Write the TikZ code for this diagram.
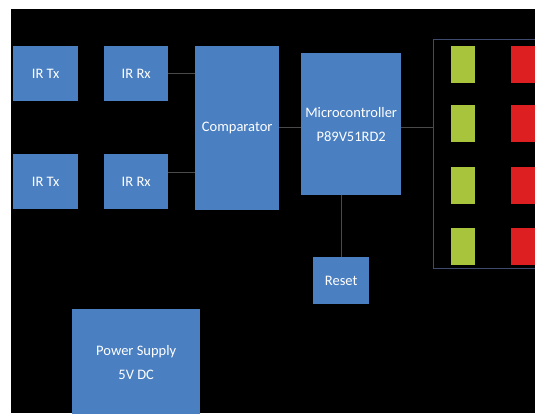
\documentclass[tikz,border=0pt]{standalone}
\usepackage{fontspec}
\setmainfont{Carlito}
\definecolor{blk}{HTML}{4A7FC1}
\definecolor{ledg}{HTML}{A8C43C}
\definecolor{ledr}{HTML}{DD1F22}
\definecolor{wire}{HTML}{4A4A4A}
\definecolor{frm}{HTML}{3E4A6E}
\tikzset{
  box/.style={fill=blk, text=white, inner sep=0pt, anchor=north west, align=center,
    font=\fontsize{14.5}{24}\selectfont},
  ledbox/.style={inner sep=0pt, anchor=north west, minimum width=24pt, minimum height=37pt},
  conn/.style={draw=wire, line width=0.8pt}
}
\begin{document}
\begin{tikzpicture}[x=1pt,y=-1pt]
\useasboundingbox (0,0) rectangle (535,413);
\clip (0,0) rectangle (535,413);
\fill[white] (0,0) rectangle (535,413);
\fill[black] (11,9) rectangle (535,413);
% blocks
\node[box, minimum width=65pt, minimum height=55pt] (tx1) at (13,46) {IR Tx};
\node[box, minimum width=64pt, minimum height=55pt] (rx1) at (104,46) {IR Rx};
\node[box, minimum width=65pt, minimum height=55pt] (tx2) at (13,154) {IR Tx};
\node[box, minimum width=64pt, minimum height=55pt] (rx2) at (104,154) {IR Rx};
\node[box, minimum width=84pt, minimum height=164pt] (comp) at (195,46) {Comparator};
\node[box, minimum width=100pt, minimum height=142pt] (mcu) at (301,53) {Microcontroller\\P89V51RD2};
\node[box, minimum width=56pt, minimum height=47pt] (rst) at (313,257) {Reset};
\node[box, minimum width=128pt, minimum height=106pt] (psu) at (72,309) {Power Supply\\5V DC};
% LED frame
\node[draw=frm, line width=0.9pt, inner sep=0pt, anchor=north west, minimum width=110pt, minimum height=229pt] (frame) at (433,39) {};
\foreach \i/\y in {1/46,2/105,3/167,4/228}{
  \node[ledbox, fill=ledg] (g\i) at (451,\y) {};
  \node[ledbox, fill=ledr] (r\i) at (511,\y) {};
}
% connectors
\draw[conn] (rx1.east) -- (rx1.east -| comp.west);
\draw[conn] ([yshift=9pt]rx2.east) -- ([yshift=9pt]rx2.east -| comp.west);
\coordinate (cm) at ([yshift=1pt]comp.east);
\draw[conn] (cm) -- (cm -| mcu.west);
\draw[conn] (cm -| mcu.east) -- (cm -| frame.west);
\draw[conn] (rst.north) -- (rst.north |- mcu.south);
\end{tikzpicture}
\end{document}
